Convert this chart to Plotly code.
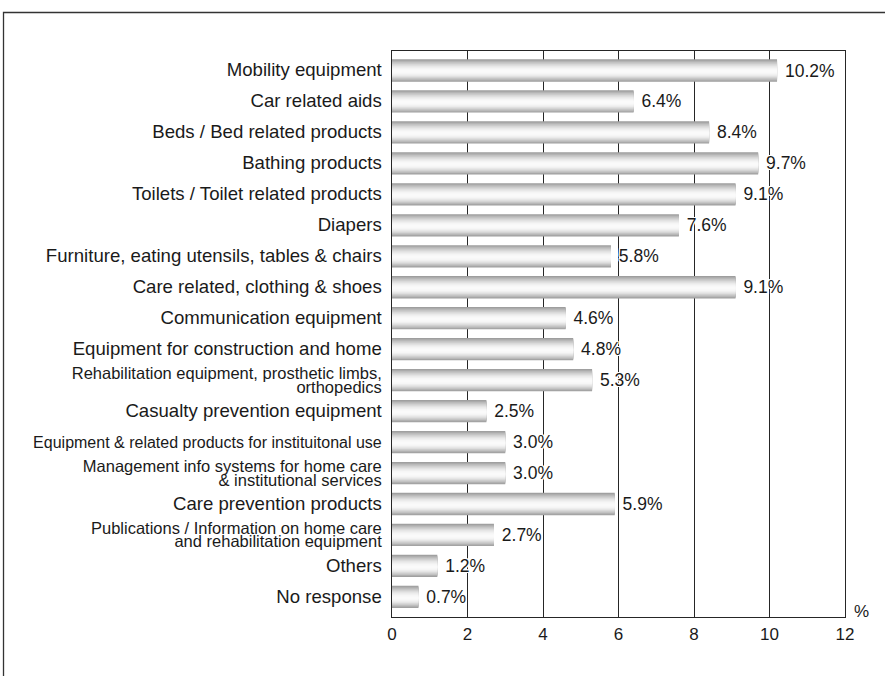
import math
import plotly.graph_objects as go

# ---------------- data ----------------
categories = [
    "Mobility equipment",
    "Car related aids",
    "Beds / Bed related products",
    "Bathing products",
    "Toilets / Toilet related products",
    "Diapers",
    "Furniture, eating utensils, tables & chairs",
    "Care related, clothing & shoes",
    "Communication equipment",
    "Equipment for construction and home",
    "Rehabilitation equipment, prosthetic limbs,|orthopedics",
    "Casualty prevention equipment",
    "Equipment & related products for instituitonal use",
    "Management info systems for home care|& institutional services",
    "Care prevention products",
    "Publications / Information on home care|and rehabilitation equipment",
    "Others",
    "No response",
]
values = [10.2, 6.4, 8.4, 9.7, 9.1, 7.6, 5.8, 9.1, 4.6, 4.8, 5.3, 2.5, 3.0, 3.0, 5.9, 2.7, 1.2, 0.7]
x_ticks = [0, 2, 4, 6, 8, 10, 12]

# ---------------- styling ----------------
FONT = "Liberation Sans, Arial, Helvetica, sans-serif"
TXT = "#1a1a1a"
LINE = "#262626"


def fmt_label(cat):
    lines = cat.split("|")
    if len(lines) > 1:
        size = 16.5
    elif "instituitonal" in cat:
        size = 16
    else:
        size = 18.6
    return "<br>".join(
        '<span style="font-size:%spx">%s</span>' % (size, ln.replace("&", "&amp;"))
        for ln in lines
    )


ticktext = [fmt_label(c) for c in categories]
ypos = list(range(len(categories)))

BAR_W = 0.72
PEAK = 0.55  # light stripe position from the top of the bar
N = 14
fig = go.Figure()
for k in range(N):
    f = 1 - k / N
    g = int(round(158 + 92 * math.sin(math.pi / 2 * k / (N - 1))))
    col = "rgb(%d,%d,%d)" % (g, g, g)
    peak = -BAR_W / 2 + BAR_W * PEAK
    kw = {}
    if k == 0:
        kw = dict(
            text=["%.1f%%" % v for v in values],
            texttemplate=" %{text}",
            textposition="outside",
            constraintext="none",
            cliponaxis=False,
            textfont=dict(
                family=FONT, size=17.5, color=TXT,
                shadow="white 1px 0px 0px, white -1px 0px 0px, white 0px 1px 0px, white 0px -1px 0px, "
                       "white 1px 1px 0px, white -1px -1px 0px, white 1px -1px 0px, white -1px 1px 0px",
            ),
        )
    fig.add_trace(go.Bar(
        x=values, y=ypos, orientation="h",
        width=BAR_W * f, offset=peak - BAR_W * PEAK * f,
        marker=dict(color=col, line=dict(width=0)),
        hoverinfo="skip", showlegend=False, **kw,
    ))

fig.update_layout(
    width=885, height=676, autosize=False,
    margin=dict(l=392, r=40, t=51, b=59, pad=0),
    paper_bgcolor="white", plot_bgcolor="white",
    barmode="overlay",
    font=dict(family=FONT, color=TXT),
    xaxis=dict(
        range=[0, 12], tickvals=x_ticks, ticktext=[str(t) for t in x_ticks],
        showgrid=True, gridcolor=LINE, gridwidth=1,
        showline=True, linecolor=LINE, linewidth=1.3, mirror=True,
        zeroline=False, ticks="", tickfont=dict(size=17, color=TXT),
        ticklabelstandoff=1, automargin=False,
    ),
    yaxis=dict(
        range=[17.65, -0.63], tickvals=ypos, ticktext=ticktext,
        showgrid=False, showline=True, linecolor=LINE, linewidth=1.3, mirror=True,
        zeroline=False, ticks="", tickfont=dict(size=10.5, color=TXT),
        ticklabelstandoff=7, ticklabelshift=-2, automargin=False,
    ),
    annotations=[dict(
        text="%", xref="paper", yref="paper", x=1, y=0,
        xanchor="left", yanchor="bottom", xshift=7, yshift=-6,
        showarrow=False, font=dict(size=17, color=TXT),
    )],
    shapes=[dict(
        type="rect", xref="paper", yref="paper",
        x0=-0.8576, x1=1.2, y0=-0.2, y1=1.068,
        line=dict(color="#333333", width=1.3), fillcolor="rgba(0,0,0,0)", layer="below",
    )],
)

fig.write_html(
    "out.html",
    config={"displayModeBar": False},
    post_script="document.body.style.margin='0';document.body.style.overflow='hidden';",
)
